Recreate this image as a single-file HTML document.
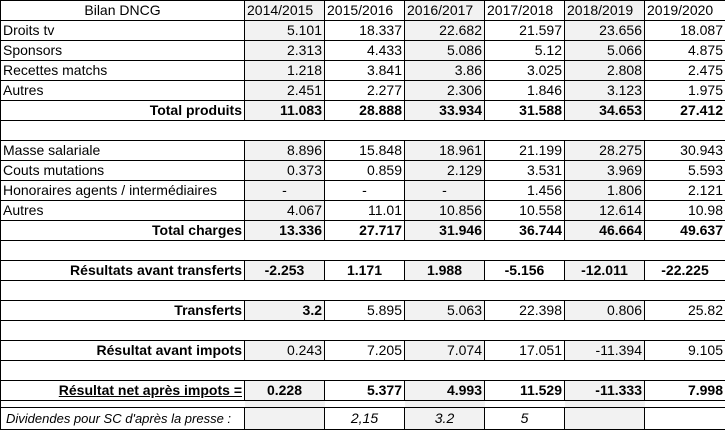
<!DOCTYPE html>
<html><head><meta charset="utf-8"><style>
html,body{margin:0;padding:0;background:#fff;width:725px;height:431px;overflow:hidden}
table{width:725px;border-collapse:collapse;table-layout:fixed;position:absolute;left:0;top:0;font-family:"Liberation Sans",sans-serif;font-size:14px;color:#000}
td{border:1px solid #000;height:19px;line-height:19px;padding:0 2px;white-space:nowrap;overflow:hidden;text-align:right}
td.l{text-align:left}
td.c{text-align:center}
.s{background:#f2f2f2}
.b{font-weight:bold}
tr.blank td{height:19px}
tr.short td{height:6px;line-height:6px;border-left:none;border-right:none;padding:0}
tr.short td:first-child{border-left:1px solid #000}
tr.short td:last-child{border-right:1px solid #000}
tr.last td{height:21px;line-height:21px}
.i{font-style:italic}
</style></head><body>
<table>
<colgroup><col style="width:244px"><col style="width:80px"><col style="width:80px"><col style="width:80px"><col style="width:80px"><col style="width:80px"><col style="width:81px"></colgroup>
<tr><td class="c">Bilan DNCG</td><td class="l s">2014/2015</td><td class="l">2015/2016</td><td class="l s">2016/2017</td><td class="l">2017/2018</td><td class="l s">2018/2019</td><td class="l">2019/2020</td></tr>
<tr><td class="l">Droits tv</td><td class="s">5.101</td><td>18.337</td><td class="s">22.682</td><td>21.597</td><td class="s">23.656</td><td>18.087</td></tr>
<tr><td class="l">Sponsors</td><td class="s">2.313</td><td>4.433</td><td class="s">5.086</td><td>5.12</td><td class="s">5.066</td><td>4.875</td></tr>
<tr><td class="l">Recettes matchs</td><td class="s">1.218</td><td>3.841</td><td class="s">3.86</td><td>3.025</td><td class="s">2.808</td><td>2.475</td></tr>
<tr><td class="l">Autres</td><td class="s">2.451</td><td>2.277</td><td class="s">2.306</td><td>1.846</td><td class="s">3.123</td><td>1.975</td></tr>
<tr class="b"><td>Total produits</td><td class="s">11.083</td><td>28.888</td><td class="s">33.934</td><td>31.588</td><td class="s">34.653</td><td>27.412</td></tr>
<tr class="blank"><td colspan="7"></td></tr>
<tr><td class="l">Masse salariale</td><td class="s">8.896</td><td>15.848</td><td class="s">18.961</td><td>21.199</td><td class="s">28.275</td><td>30.943</td></tr>
<tr><td class="l">Couts mutations</td><td class="s">0.373</td><td>0.859</td><td class="s">2.129</td><td>3.531</td><td class="s">3.969</td><td>5.593</td></tr>
<tr><td class="l">Honoraires agents / intermédiaires</td><td class="c s">-</td><td class="c">-</td><td class="c s">-</td><td>1.456</td><td class="s">1.806</td><td>2.121</td></tr>
<tr><td class="l">Autres</td><td class="s">4.067</td><td>11.01</td><td class="s">10.856</td><td>10.558</td><td class="s">12.614</td><td>10.98</td></tr>
<tr class="b"><td>Total charges</td><td class="s">13.336</td><td>27.717</td><td class="s">31.946</td><td>36.744</td><td class="s">46.664</td><td>49.637</td></tr>
<tr class="blank"><td colspan="7"></td></tr>
<tr class="b"><td>Résultats avant transferts</td><td class="c s">-2.253</td><td class="c">1.171</td><td class="c s">1.988</td><td class="c">-5.156</td><td class="c s">-12.011</td><td class="c">-22.225</td></tr>
<tr class="blank"><td colspan="7"></td></tr>
<tr><td class="b">Transferts</td><td class="s b">3.2</td><td>5.895</td><td class="s">5.063</td><td>22.398</td><td class="s">0.806</td><td>25.82</td></tr>
<tr class="blank"><td colspan="7"></td></tr>
<tr><td class="b">Résultat avant impots</td><td class="s">0.243</td><td>7.205</td><td class="s">7.074</td><td>17.051</td><td class="s">-11.394</td><td>9.105</td></tr>
<tr class="blank"><td colspan="7"></td></tr>
<tr class="b"><td><u>Résultat net après impots =</u></td><td class="c s">0.228</td><td>5.377</td><td class="s">4.993</td><td>11.529</td><td class="s">-11.333</td><td>7.998</td></tr>
<tr class="short"><td></td><td class="s"></td><td></td><td class="s"></td><td></td><td class="s"></td><td></td></tr>
<tr class="i last"><td class="l" style="font-size:13px;padding-left:5px">Dividendes pour SC d'après la presse :</td><td class="s"></td><td class="c">2,15</td><td class="c s">3.2</td><td class="c">5</td><td class="s"></td><td></td></tr>
</table>
</body></html>
